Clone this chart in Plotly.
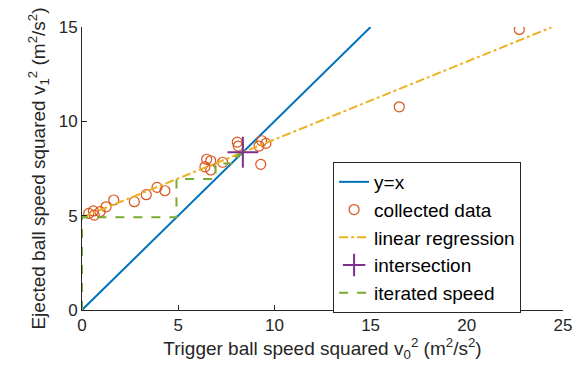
import plotly.graph_objects as go

# collected data (trigger v0^2, ejected v1^2)
data_x = [0.35, 0.59, 0.64, 0.94, 1.25, 1.65, 2.72, 3.34, 3.90, 4.31,
          6.39, 6.48, 6.69, 6.69, 7.31, 8.07, 8.12, 9.20, 9.34, 9.56, 9.29,
          16.49, 22.73]
data_y = [5.12, 5.25, 5.03, 5.21, 5.47, 5.83, 5.74, 6.11, 6.50, 6.32,
          7.59, 7.99, 7.91, 7.42, 7.83, 8.90, 8.69, 8.69, 8.97, 8.83, 7.72,
          10.77, 14.87]

# y = x reference line
yx_x = [0, 15]
yx_y = [0, 15]

# linear regression line
reg_x = [0, 24.4]
reg_y = [4.91, 14.98]

# intersection point
int_x = [8.36]
int_y = [8.36]

# iterated speed (cobweb)
it_x = [0, 0, 4.91, 4.91, 6.94, 6.94, 7.77, 7.77, 8.12, 8.12, 8.26, 8.26, 8.32, 8.32, 8.34]
it_y = [0, 4.91, 4.91, 6.94, 6.94, 7.77, 7.77, 8.12, 8.12, 8.26, 8.26, 8.32, 8.32, 8.34, 8.34]

BLUE = "#0072BD"
ORANGE = "#D95319"
YELLOW = "#EDB120"
PURPLE = "#7E2F8E"
GREEN = "#77AC30"
TXT = "#262626"

fig = go.Figure()
fig.add_trace(go.Scatter(x=yx_x, y=yx_y, mode="lines", name="y=x",
                         line=dict(color=BLUE, width=2)))
fig.add_trace(go.Scatter(x=data_x, y=data_y, mode="markers", name="collected data",
                         marker=dict(symbol="circle-open", size=10, color=ORANGE,
                                     line=dict(width=1.2, color=ORANGE))))
fig.add_trace(go.Scatter(x=reg_x, y=reg_y, mode="lines", name="linear regression",
                         line=dict(color=YELLOW, width=2, dash="dashdot")))
fig.add_trace(go.Scatter(x=int_x, y=int_y, mode="markers", name="intersection",
                         marker=dict(symbol="cross-thin-open", size=22, color=PURPLE,
                                     line=dict(width=2, color=PURPLE))))
fig.add_trace(go.Scatter(x=it_x, y=it_y, mode="lines", name="iterated speed",
                         line=dict(color=GREEN, width=2, dash="dash")))

# reorder so lines drawn beneath markers similar to MATLAB order
fig.update_layout(
    width=586, height=380,
    margin=dict(l=82, r=23, t=27, b=70),
    paper_bgcolor="white", plot_bgcolor="white",
    font=dict(family="Liberation Sans, Arial, sans-serif", size=17, color=TXT),
    showlegend=True,
    legend=dict(x=0.522, y=0.523, xanchor="left", yanchor="top",
                bordercolor=TXT, borderwidth=1, bgcolor="white",
                font=dict(size=19, color="black"),
                tracegroupgap=0, itemwidth=30),
    xaxis=dict(range=[0, 25], tickvals=[0, 5, 10, 15, 20, 25],
               showgrid=False, zeroline=False, showline=True, linecolor=TXT,
               linewidth=1, ticks="inside", ticklen=5, tickcolor=TXT,
               tickfont=dict(size=17),
               title=dict(text="Trigger ball speed squared v<sub>0</sub><sup>2</sup> (m<sup>2</sup>/s<sup>2</sup>)",
                          font=dict(size=19), standoff=4)),
    yaxis=dict(range=[0, 15], tickvals=[0, 5, 10, 15],
               showgrid=False, zeroline=False, showline=True, linecolor=TXT,
               linewidth=1, ticks="inside", ticklen=5, tickcolor=TXT,
               tickfont=dict(size=17),
               title=dict(text="Ejected ball speed squared v<sub>1</sub><sup>2</sup> (m<sup>2</sup>/s<sup>2</sup>)",
                          font=dict(size=19), standoff=8)),
)

fig.write_html("out.html")
